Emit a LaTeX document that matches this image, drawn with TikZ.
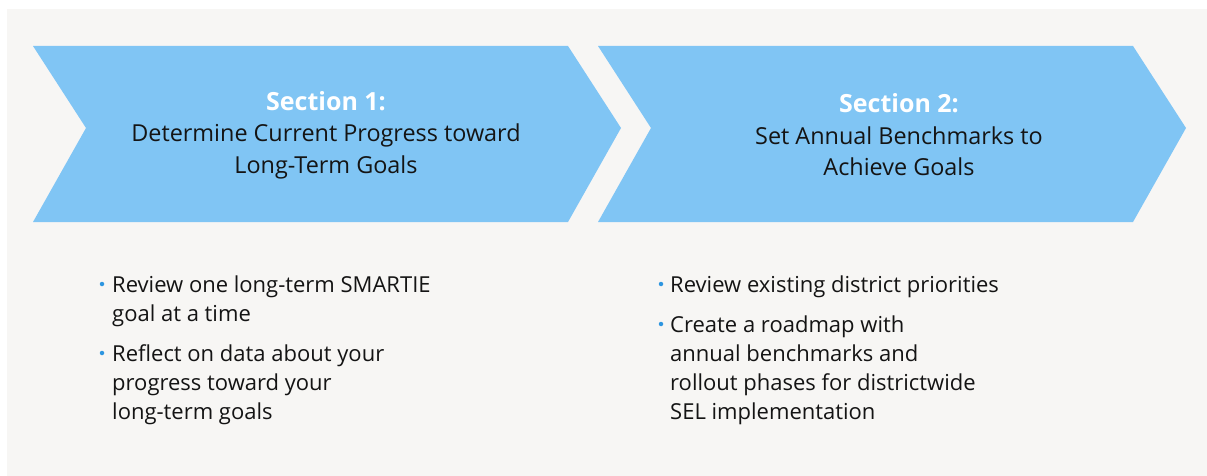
\documentclass[tikz,border=0pt]{standalone}
\usepackage{fontspec}
\setmainfont{Open Sans}
\definecolor{arrowblue}{HTML}{80C5F4}
\definecolor{panelgray}{HTML}{F7F6F4}
\definecolor{dotblue}{HTML}{2E96E0}
\definecolor{inkblack}{HTML}{141414}
\begin{document}
\begin{tikzpicture}
    [x=1pt,y=-1pt,
    chevron/.style={fill=arrowblue},
    heading/.style={align=center, inner sep=0pt, text=inkblack, font=\fontsize{23.4}{31.5}\selectfont},
    item/.style={anchor=base west, align=left, inner sep=0pt, text=inkblack, font=\fontsize{22}{29}\selectfont},
    dot/.style={circle, fill=dotblue, inner sep=0pt, minimum size=4.5pt}]
    \useasboundingbox (0,0) rectangle (1207,476);
    \fill[panelgray] (7,9) rectangle (1207,476);
    % the two chevrons
    \fill[chevron] (33,46) -- (568,46) -- (621,128) -- (568,222) -- (33,222) -- (86,128) -- cycle;
    \fill[chevron] (598,46) -- (1133,46) -- (1186,128) -- (1133,222) -- (598,222) -- (651,128) -- cycle;
    \node[heading] (sec1) at (326,135) {\textcolor{white}{\fontsize{25}{31.5}\selectfont\bfseries Section 1:}\\Determine Current Progress toward\\Long-Term Goals};
    \node[heading] (sec2) at (899,135) {\textcolor{white}{\fontsize{25}{31.5}\selectfont\bfseries Section 2:}\\Set Annual Benchmarks to\\Achieve Goals};
    % bullets, section 1 (placed at the baseline of the last line)
    \node[item] (a1) at (112,321) {Review one long-term SMARTIE\\goal at a time};
    \node[item] (a2) at (112,419) {Reflect on data about your\\progress toward your\\long-term goals};
    \node[dot] (da1) at ([xshift=-10pt,yshift=37pt]a1.base west) {};
    \node[dot] (da2) at ([xshift=-10pt,yshift=66pt]a2.base west) {};
    % bullets, section 2
    \node[item] (b1) at (670,292) {Review existing district priorities};
    \node[item] (b2) at (670,419) {Create a roadmap with\\annual benchmarks and\\rollout phases for districtwide\\SEL implementation};
    \node[dot] (db1) at ([xshift=-9pt,yshift=8pt]b1.base west) {};
    \node[dot] (db2) at ([xshift=-9pt,yshift=95pt]b2.base west) {};
\end{tikzpicture}
\end{document}
